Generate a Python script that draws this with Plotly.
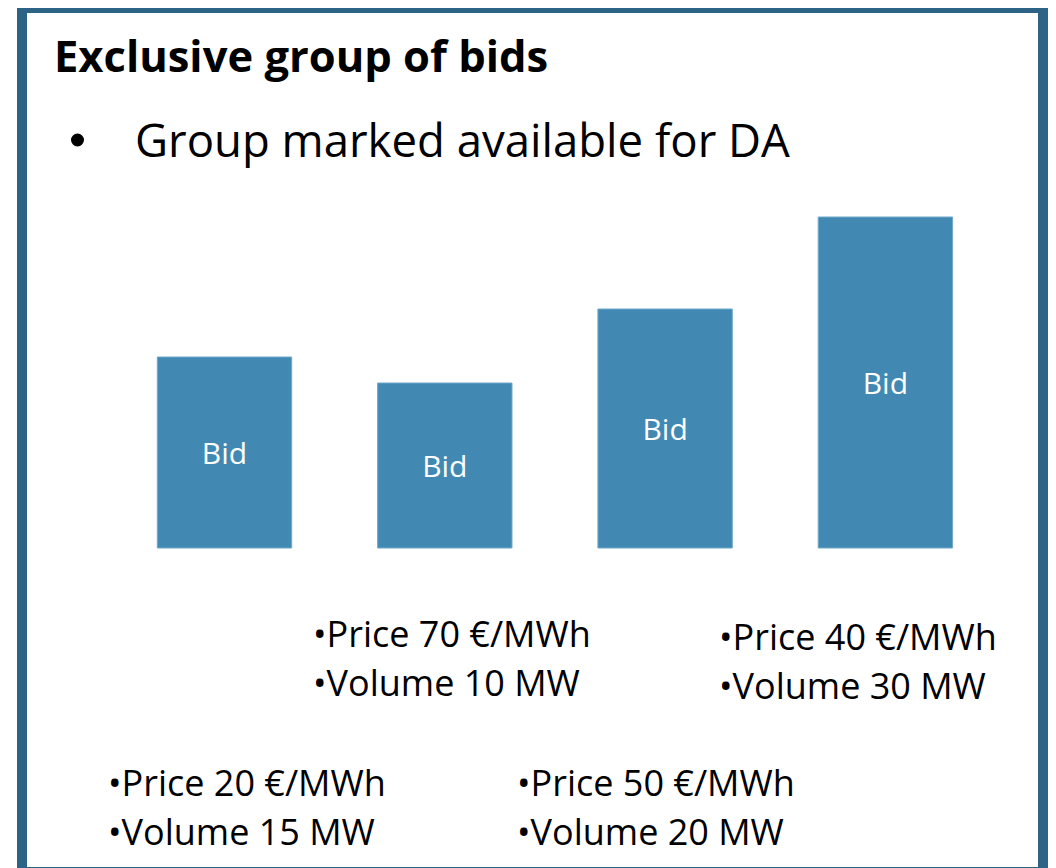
import plotly.graph_objects as go

# ---- data ----
categories = ["Bid 1", "Bid 2", "Bid 3", "Bid 4"]
bar_heights = [191, 165, 239, 331]          # relative bar heights (drawn size)
bar_labels = ["Bid", "Bid", "Bid", "Bid"]
prices = [20, 70, 50, 40]                   # €/MWh
volumes = [15, 10, 20, 30]                  # MW

title_text = "Exclusive group of bids"
bullet_text = "Group marked available for DA"

W, H = 1056, 868
OFF = 8          # page body margin offset
FONT = "Open Sans"
BAR_COLOR = "#4189b3"
BORDER_COLOR = "#2d6485"

fig = go.Figure()
fig.add_trace(go.Bar(
    x=list(range(len(categories))),
    y=bar_heights,
    width=0.61,
    marker=dict(color=BAR_COLOR, line=dict(color="#6fa8ca", width=1)),
    text=bar_labels,
    textposition="inside",
    insidetextanchor="middle",
    textfont=dict(family=FONT, size=30, color="white"),
    hoverinfo="skip",
))

# pixel helpers for layout positions (paper coords), corrected for page offset
def px(x):
    return (x - OFF) / W
def py(y):
    return 1 - (y - OFF) / H

annotations = []
annotations.append(dict(text=f"<b>{title_text}</b>", x=px(52), y=py(55), xref="paper", yref="paper",
                        xanchor="left", yanchor="middle", showarrow=False,
                        font=dict(family=FONT, size=43.5, color="black")))
annotations.append(dict(text=bullet_text, x=px(133), y=py(139), xref="paper", yref="paper",
                        xanchor="left", yanchor="middle", showarrow=False,
                        font=dict(family=FONT, size=45.5, color="black")))

# positions of the price/volume text blocks: (left px, first line center px)
text_pos = [(106, 782), (311, 633), (515, 782), (717, 636)]
for (lx, ly), p, v in zip(text_pos, prices, volumes):
    annotations.append(dict(text=f"•Price {p} €/MWh", x=px(lx), y=py(ly), xref="paper", yref="paper",
                            xanchor="left", yanchor="middle", showarrow=False,
                            font=dict(family=FONT, size=36, color="black")))
    annotations.append(dict(text=f"•Volume {v} MW", x=px(lx), y=py(ly + 49), xref="paper", yref="paper",
                            xanchor="left", yanchor="middle", showarrow=False,
                            font=dict(family=FONT, size=36, color="black")))

# axis ranges chosen so bars sit where the slide places them
x0_px, dx_px = 224.5 - OFF, 220.3
y0_px = 548 - OFF
fig.update_layout(
    width=W, height=H,
    margin=dict(l=0, r=0, t=0, b=0),
    paper_bgcolor="white", plot_bgcolor="white",
    showlegend=False,
    xaxis=dict(range=[-x0_px / dx_px, (W - x0_px) / dx_px], visible=False, fixedrange=True),
    yaxis=dict(range=[-(H - y0_px), y0_px], visible=False, fixedrange=True),
    annotations=annotations,
    shapes=[
        dict(type="rect", xref="paper", yref="paper",
             x0=px(22), x1=px(1043), y0=py(872), y1=py(8),
             line=dict(color=BORDER_COLOR, width=10), fillcolor="rgba(0,0,0,0)"),
        dict(type="circle", xref="paper", yref="paper",
             x0=px(71), x1=px(84), y0=py(146.5), y1=py(133.5),
             line=dict(width=0), fillcolor="black"),
    ],
    uniformtext=dict(minsize=10, mode="show"),
)

fig.write_html("out.html")
